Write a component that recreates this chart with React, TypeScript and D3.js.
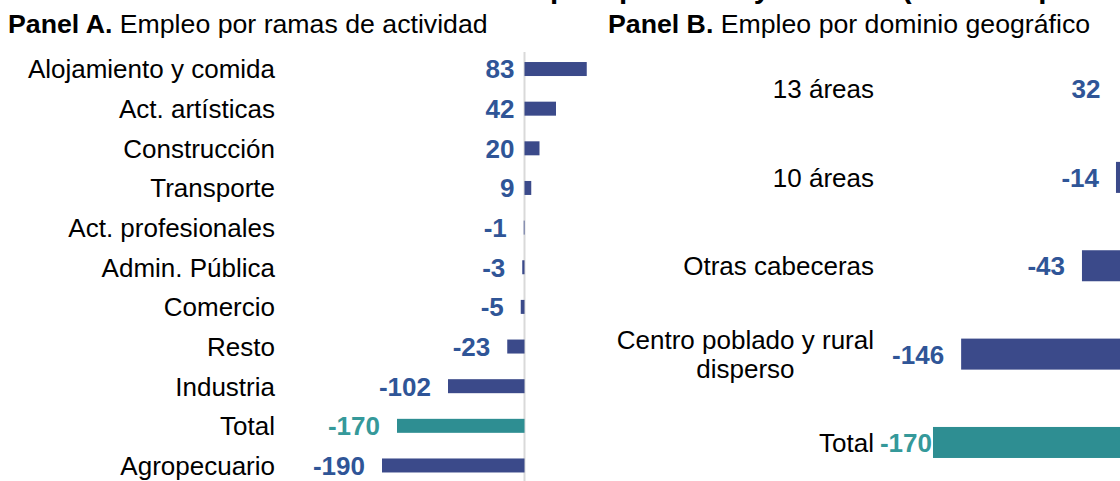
import React, { useEffect, useRef } from "react";
import * as d3 from "d3";

// Panel A: empleo por ramas de actividad (miles)
const ramas = [
    "Alojamiento y comida",
    "Act. artísticas",
    "Construcción",
    "Transporte",
    "Act. profesionales",
    "Admin. Pública",
    "Comercio",
    "Resto",
    "Industria",
    "Total",
    "Agropecuario",
];
const valoresRamas = [83, 42, 20, 9, -1, -3, -5, -23, -102, -170, -190];

// Panel B: empleo por dominio geografico (miles)
const dominios = ["13 áreas", "10 áreas", "Otras cabeceras", "Centro poblado y rural\ndisperso", "Total"];
const valoresDominios = [32, -14, -43, -146, -170];

const tituloGeneral = "Variación anual del empleo por rama y dominio (miles de personas)";

const W = 1120;
const H = 481;
const FONT = "'Liberation Sans', Arial, sans-serif";
const NAVY = "#3b4a8a";
const BLUE_TXT = "#2f5597";
const TEAL = "#2e8e92";
const TEAL_TXT = "#35999a";

const App = () => {
    const svgRef = useRef(null);

    useEffect(() => {
        const svg = d3.select(svgRef.current);
        svg.selectAll("*").remove();

        // main title, mostly cut off at the top edge (only descenders show)
        svg.append("text")
            .attr("x", 230.8)
            .attr("y", -2)
            .attr("font-family", FONT)
            .attr("font-size", 29.6)
            .attr("font-weight", "bold")
            .attr("fill", "#000")
            .text(tituloGeneral);

        const panelTitle = (x, bold, rest) => {
            const t = svg.append("text")
                .attr("x", x)
                .attr("y", 33.3)
                .attr("font-family", FONT)
                .attr("font-size", 26.7)
                .attr("fill", "#000");
            t.append("tspan").attr("font-weight", "bold").text(bold);
            t.append("tspan").text(" " + rest);
        };
        panelTitle(8, "Panel A.", "Empleo por ramas de actividad");
        panelTitle(608, "Panel B.", "Empleo por dominio geográfico");

        const drawPanel = ({ cats, vals, x, y, labelX, posGap, totalGap }) => {
            const g = svg.append("g");
            const x0 = x(0);
            const rows = cats.map((c, i) => ({ c, v: vals[i] }));

            g.selectAll("rect.bar")
                .data(rows)
                .enter()
                .append("rect")
                .attr("class", "bar")
                .attr("x", (d) => Math.min(x(d.v), x0))
                .attr("y", (d) => y(d.c))
                .attr("width", (d) => Math.abs(x(d.v) - x0))
                .attr("height", y.bandwidth())
                .attr("fill", (d) => (d.c === "Total" ? TEAL : NAVY));

            // value labels
            g.selectAll("text.val")
                .data(rows)
                .enter()
                .append("text")
                .attr("class", "val")
                .attr("x", (d) => {
                    if (d.v >= 0) return x0 - posGap;
                    if (d.c === "Total" && totalGap != null) return x(d.v) - totalGap;
                    return x(d.v) - 17;
                })
                .attr("y", (d) => y(d.c) + y.bandwidth() / 2 + 9.4)
                .attr("text-anchor", "end")
                .attr("font-family", FONT)
                .attr("font-size", 26)
                .attr("font-weight", "bold")
                .attr("fill", (d) => (d.c === "Total" ? TEAL_TXT : BLUE_TXT))
                .text((d) => d.v);

            // category labels (multi-line ones are centred as a block)
            rows.forEach((d) => {
                const lines = d.c.split("\n");
                const cy = y(d.c) + y.bandwidth() / 2;
                const lh = 28.5;
                const top = cy - ((lines.length - 1) * lh) / 2 + 9.4;
                const t = g.append("text")
                    .attr("font-family", FONT)
                    .attr("font-size", 26)
                    .attr("fill", "#000");
                const spans = lines.map((ln, k) =>
                    t.append("tspan").attr("y", top + k * lh).text(ln)
                );
                if (lines.length === 1) {
                    t.attr("text-anchor", "end");
                    spans[0].attr("x", labelX);
                } else {
                    const widest = d3.max(spans, (s) => s.node().getComputedTextLength());
                    t.attr("text-anchor", "middle");
                    spans.forEach((s) => s.attr("x", labelX - widest / 2));
                }
            });
            return g;
        };

        const xA = d3.scaleLinear().domain([-200, 100]).range([374.5, 599.5]);
        const yA = d3.scaleBand().domain(ramas).range([49.2, 485.3]).paddingInner(0.647).paddingOuter(0.3235);

        // zero line of panel A
        svg.append("line")
            .attr("x1", xA(0))
            .attr("x2", xA(0))
            .attr("y1", 52)
            .attr("y2", H)
            .attr("stroke", "#d9d9d9")
            .attr("stroke-width", 2);

        drawPanel({ cats: ramas, vals: valoresRamas, x: xA, y: yA, labelX: 275, posGap: 10 });

        const xB = d3.scaleLinear().domain([-200, 50]).range([897.8, 1191.05]);
        const yB = d3.scaleBand().domain(dominios).range([44.85, 486.65]).paddingInner(0.649).paddingOuter(0.3245);

        drawPanel({ cats: dominios, vals: valoresDominios, x: xB, y: yB, labelX: 874, posGap: 32, totalGap: 1 });
    }, []);

    return (
        <svg
            ref={svgRef}
            width={W}
            height={H}
            style={{ position: "absolute", left: 0, top: 0, background: "#fff", display: "block" }}
        ></svg>
    );
};

export default App;
